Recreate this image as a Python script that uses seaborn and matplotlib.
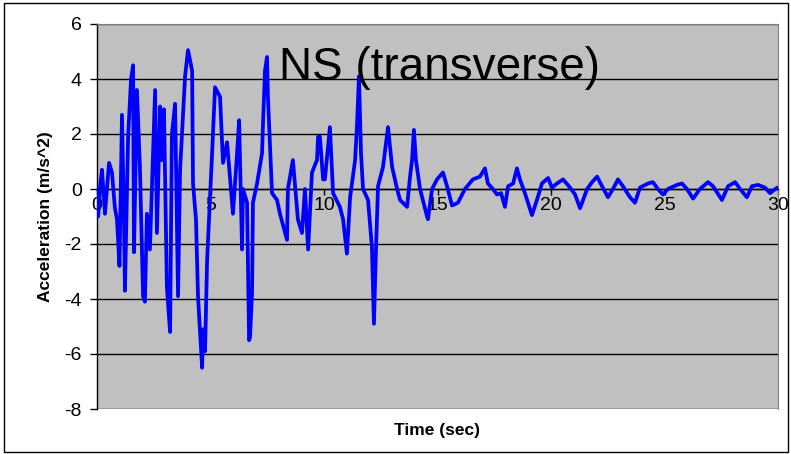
import matplotlib
matplotlib.use("Agg")
import matplotlib.pyplot as plt
import seaborn as sns
import pandas as pd
from matplotlib.patches import Rectangle

time_s = [0.0, 0.05, 0.15, 0.22, 0.35, 0.53, 0.66, 0.79, 0.88, 0.99, 1.10, 1.19, 1.23, 1.37, 1.50, 1.59,
          1.63, 1.76, 1.89, 2.03, 2.11, 2.20, 2.33, 2.56, 2.64, 2.78, 2.86, 2.95, 3.08, 3.22, 3.30, 3.44,
          3.57, 3.66, 3.88, 4.01, 4.19, 4.23, 4.36, 4.45, 4.63, 4.67, 4.76, 4.85, 5.07, 5.20, 5.42, 5.55,
          5.73, 5.99, 6.17, 6.26, 6.39, 6.43, 6.61, 6.70, 6.74, 6.83, 6.87, 7.05, 7.27, 7.31, 7.40, 7.49,
          7.53, 7.71, 7.93, 8.06, 8.37, 8.41, 8.63, 8.85, 9.03, 9.16, 9.30, 9.47, 9.69, 9.74, 9.82, 9.96,
          10.04, 10.26, 10.40, 10.70, 10.84, 11.01, 11.15, 11.37, 11.45, 11.54, 11.63, 11.72, 11.94, 12.11,
          12.20, 12.29, 12.38, 12.60, 12.82, 13.00, 13.22, 13.35, 13.66, 13.79, 13.88, 13.96, 14.05, 14.23,
          14.54, 14.58, 14.76, 14.98, 15.24, 15.42, 15.64, 15.90, 16.21, 16.56, 16.87, 17.09, 17.22, 17.44,
          17.62, 17.80, 17.97, 18.11, 18.33, 18.50, 18.63, 18.85, 19.16, 19.38, 19.60, 19.87, 20.04, 20.26,
          20.53, 20.84, 21.06, 21.28, 21.59, 21.81, 22.03, 22.25, 22.51, 22.73, 22.95, 23.17, 23.48, 23.70,
          23.92, 24.27, 24.49, 24.71, 24.93, 25.15, 25.55, 25.77, 25.99, 26.26, 26.56, 26.92, 27.14, 27.53,
          27.80, 28.11, 28.33, 28.63, 28.85, 29.12, 29.43, 29.65, 29.96]
accel = [0.0, -1.0, 0.2, 0.7, -0.9, 0.95, 0.6, -0.7, -1.1, -2.8, 2.7, -1.1, -3.7, 1.9, 4.0, 4.5,
         -2.3, 3.6, 0.8, -3.9, -4.1, -0.9, -2.2, 3.6, -1.6, 3.0, 1.05, 2.9, -3.6, -5.2, 2.0, 3.1,
         -3.9, 0.7, 4.1, 5.05, 4.3, 0.2, -1.1, -3.9, -6.5, -5.1, -5.9, -2.6, 1.3, 3.7, 3.35, 0.95,
         1.7, -0.9, 1.3, 2.5, -2.2, 0.0, -0.5, -5.5, -5.4, -3.8, -0.5, 0.2, 1.3, 2.3, 4.3, 4.8,
         3.35, -0.15, -0.4, -0.9, -1.85, 0.0, 1.05, -1.1, -1.6, 0.0, -2.2, 0.6, 1.05, 1.9, 1.9, 0.35,
         0.35, 2.25, -0.15, -0.65, -1.1, -2.35, -0.3, 1.05, 2.25, 4.1, 1.3, 0.0, -0.4, -2.1,
         -4.9, -2.2, 0.1, 0.8, 2.25, 0.8, 0.0, -0.4, -0.65, 0.45, 1.05, 2.15, 1.05, 0.0,
         -1.0, -1.1, 0.0, 0.35, 0.6, 0.1, -0.6, -0.5, 0.0, 0.35, 0.45, 0.75, 0.2, 0.0,
         -0.2, -0.15, -0.65, 0.1, 0.2, 0.75, 0.35, -0.15, -0.95, -0.4, 0.2, 0.4, 0.05, 0.2,
         0.35, 0.05, -0.2, -0.7, 0.0, 0.25, 0.45, 0.1, -0.3, 0.0, 0.35, 0.1, -0.3, -0.5,
         0.05, 0.2, 0.25, 0.0, -0.2, 0.0, 0.15, 0.2, 0.0, -0.35, 0.0, 0.25, 0.1, -0.4,
         0.1, 0.25, 0.0, -0.3, 0.1, 0.15, 0.05, -0.15, 0.05]

x_ticks = [0, 5, 10, 15, 20, 25, 30]
y_ticks = [-8, -6, -4, -2, 0, 2, 4, 6]
title = "NS (transverse)"
x_label = "Time (sec)"
y_label = "Acceleration (m/s^2)"

df = pd.DataFrame({"t": time_s, "a": accel})

sns.set_style("white")
plt.rcParams["font.family"] = ["Liberation Sans", "DejaVu Sans"]
plt.rcParams["axes.unicode_minus"] = False
plt.rcParams["text.color"] = "black"
plt.rcParams["axes.labelcolor"] = "black"
plt.rcParams["xtick.color"] = "black"
plt.rcParams["ytick.color"] = "black"

fig = plt.figure(figsize=(7.91, 4.54), dpi=100)
ax = fig.add_axes([97 / 791, 1 - 409 / 454, 681 / 791, 385 / 454])
ax.set_facecolor("#C0C0C0")

sns.lineplot(data=df, x="t", y="a", ax=ax, color="#0000FF", linewidth=2.7, zorder=3)

ax.set_xlim(0, 30)
ax.set_ylim(-8, 6)
ax.set_xticks(x_ticks)
ax.set_yticks(y_ticks)
ax.yaxis.grid(True, color="black", linewidth=1.0, zorder=1)
ax.xaxis.grid(False)
ax.set_axisbelow(True)

ax.spines["bottom"].set_position(("data", 0))
ax.spines["bottom"].set_color("black")
ax.spines["bottom"].set_linewidth(1.0)
ax.spines["left"].set_color("black")
ax.spines["left"].set_linewidth(1.0)
ax.spines["top"].set_color("#808080")
ax.spines["right"].set_color("#808080")

ax.tick_params(axis="y", left=True, length=5, width=1, colors="black", pad=6, labelsize=14)
ax.tick_params(axis="x", bottom=True, length=4, width=1, colors="black", pad=2, labelsize=14,
               direction="out")

ax.set_xlabel(x_label, fontsize=12.5, fontweight="bold", color="black")
ax.set_ylabel(y_label, fontsize=12.5, fontweight="bold", color="black")
ax.xaxis.set_label_coords(0.5, -0.036)
ax.xaxis.label.set_va("top")
ax.yaxis.set_label_coords(-0.076, 0.5)
ax.yaxis.label.set_va("center")

ax.text(0.503, 0.885, title, transform=ax.transAxes, ha="center", va="center", fontsize=33,
        color="black", zorder=4)

fig.patches.append(Rectangle((4 / 791, 1 - 452 / 454), 784 / 791, 449 / 454,
                             transform=fig.transFigure, fill=False, edgecolor="black", linewidth=1))

fig.savefig("out.png", dpi=100)
